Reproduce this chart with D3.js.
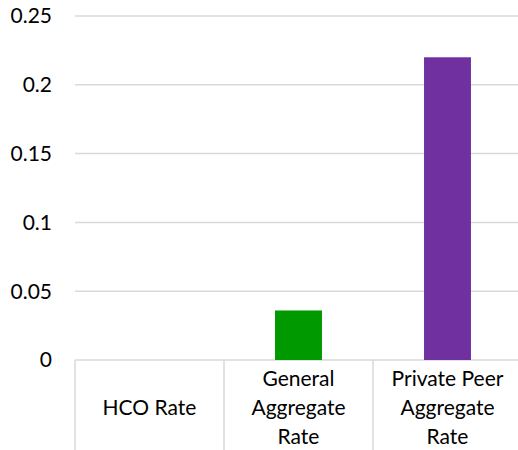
<!DOCTYPE html>
<html><head><meta charset="utf-8">
<script src="https://cdn.jsdelivr.net/npm/d3@7"></script>
<style>body{margin:0;background:#fff}svg{display:block}</style>
</head><body>
<svg id="c" width="518" height="450"></svg>
<script>
const categories = ["HCO Rate", "General Aggregate Rate", "Private Peer Aggregate Rate"];
const labelLines = [["HCO Rate"], ["General", "Aggregate", "Rate"], ["Private Peer", "Aggregate", "Rate"]];
const values = [0, 0.036, 0.22];
const colors = ["#4472c4", "#009900", "#7030a0"];
const yTicks = [0, 0.05, 0.1, 0.15, 0.2, 0.25];
const yTickLabels = ["0", "0.05", "0.1", "0.15", "0.2", "0.25"];

const svg = d3.select("#c");
const font = "Lato, 'Open Sans', sans-serif";
const y = d3.scaleLinear().domain([0, 0.25]).range([360, 16]);
const x = d3.scaleBand().domain(categories).range([75, 522]).paddingInner(0).paddingOuter(0);

// gridlines
svg.append("g").selectAll("line").data(yTicks).join("line")
  .attr("x1", 75).attr("x2", 518)
  .attr("y1", d => y(d)).attr("y2", d => y(d))
  .attr("stroke", "#d9d9d9").attr("stroke-width", 1.5);

// y tick labels
svg.append("g").selectAll("text").data(yTicks).join("text")
  .attr("x", 52).attr("y", d => y(d)).attr("dy", "0.35em")
  .attr("text-anchor", "end").attr("font-family", font).attr("font-size", 21)
  .attr("fill", "#000").text((d, i) => yTickLabels[i]);

// bars
const bw = x.bandwidth() * 0.315;
svg.append("g").selectAll("rect").data(values).join("rect")
  .attr("x", (d, i) => x(categories[i]) + x.bandwidth() / 2 - bw / 2)
  .attr("width", bw)
  .attr("y", d => y(d)).attr("height", d => y(0) - y(d))
  .attr("fill", (d, i) => colors[i]);

// category separators
const bounds = categories.map(c => x(c));
svg.append("g").selectAll("line").data(bounds).join("line")
  .attr("x1", d => d).attr("x2", d => d)
  .attr("y1", y(0)).attr("y2", 450)
  .attr("stroke", "#d9d9d9").attr("stroke-width", 1.5);

// category labels
const lh = 29, cy = 408;
categories.forEach((c, i) => {
  const lines = labelLines[i];
  const t = svg.append("text").attr("text-anchor", "middle")
    .attr("font-family", font).attr("font-size", 21).attr("fill", "#000");
  lines.forEach((ln, j) => {
    t.append("tspan").attr("x", x(c) + x.bandwidth() / 2)
      .attr("y", cy + (j - (lines.length - 1) / 2) * lh).attr("dy", "0.35em").text(ln);
  });
});
</script>
</body></html>
